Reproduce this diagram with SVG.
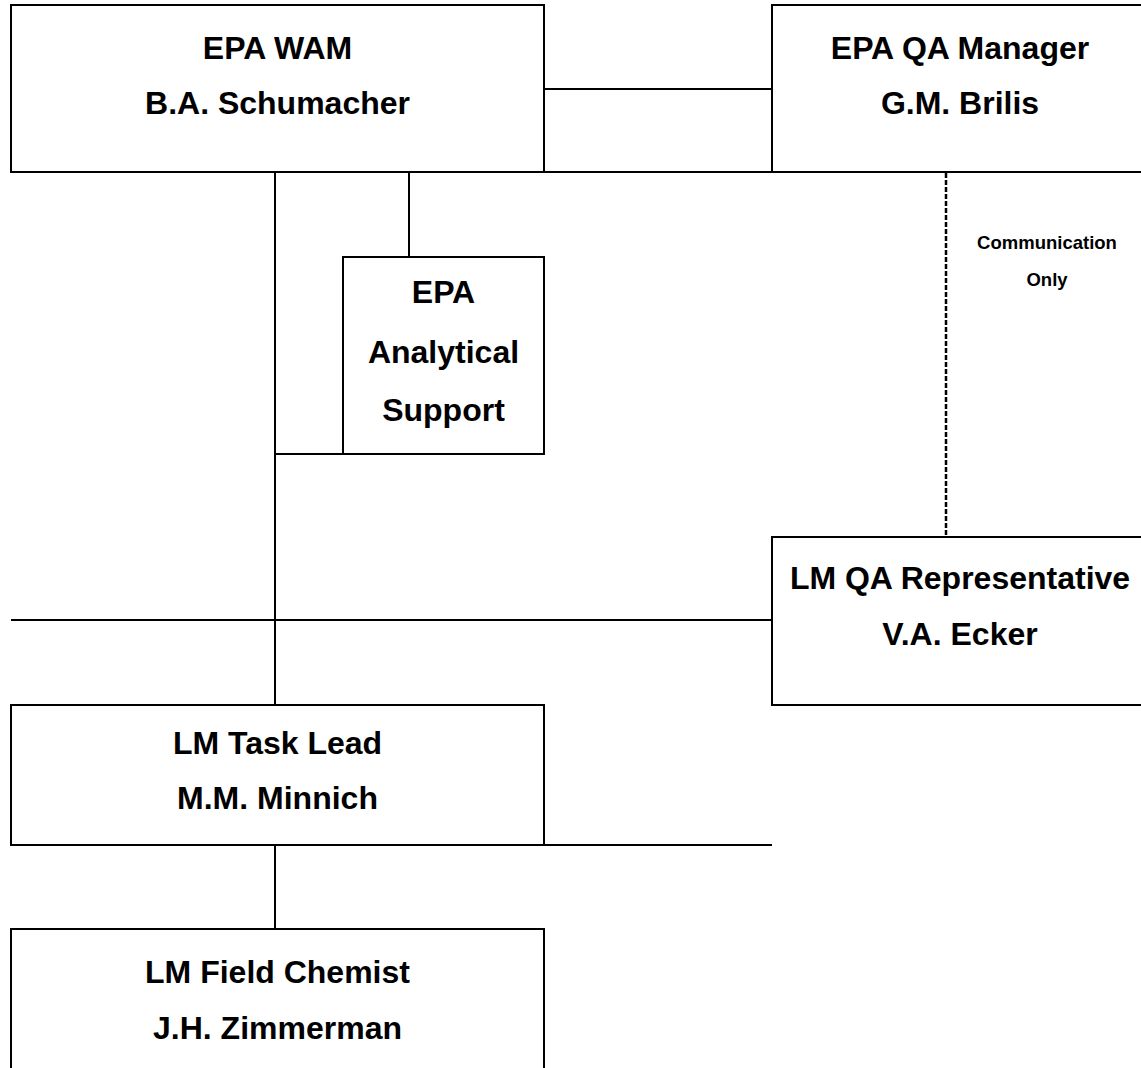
<svg xmlns="http://www.w3.org/2000/svg" width="1141" height="1068" viewBox="0 0 1141 1068">
<style>
.box{fill:#fff;stroke:#000;stroke-width:2}
.ln{stroke:#000;stroke-width:2;fill:none}
.dash{stroke:#000;stroke-width:2.5;stroke-dasharray:5 2;fill:none}
.t{font-family:"Liberation Sans",Arial,sans-serif;font-weight:bold;font-size:32px;text-anchor:middle;fill:#000}
.s{font-family:"Liberation Sans",Arial,sans-serif;font-weight:bold;font-size:18.5px;text-anchor:middle;fill:#000}
</style>
<rect width="1141" height="1068" fill="#fff"/>
<g id="connectors">
<line class="ln" x1="544" y1="89" x2="772" y2="89"/>
<line class="ln" x1="11" y1="172" x2="1141" y2="172"/>
<line class="ln" x1="275" y1="172" x2="275" y2="705"/>
<line class="ln" x1="409" y1="172" x2="409" y2="257"/>
<line class="ln" x1="275" y1="454" x2="544" y2="454"/>
<line class="dash" x1="946" y1="173" x2="946" y2="537"/>
<line class="ln" x1="11" y1="620" x2="772" y2="620"/>
<line class="ln" x1="11" y1="845" x2="772" y2="845"/>
<line class="ln" x1="275" y1="845" x2="275" y2="929"/>
<text class="s" x="1047" y="249">Communication</text>
<text class="s" x="1047" y="286">Only</text>
</g>
<g id="epa-wam">
<rect class="box" x="11" y="5" width="533" height="167"/>
<text class="t" x="277.5" y="59">EPA WAM</text>
<text class="t" x="277.5" y="114">B.A. Schumacher</text>
</g>
<g id="epa-qa-manager">
<rect class="box" x="772" y="5" width="380" height="167"/>
<text class="t" x="960" y="59">EPA QA Manager</text>
<text class="t" x="960" y="114">G.M. Brilis</text>
</g>
<g id="epa-analytical-support">
<rect class="box" x="343" y="257" width="201" height="197"/>
<text class="t" x="443.5" y="303">EPA</text>
<text class="t" x="443.5" y="363">Analytical</text>
<text class="t" x="443.5" y="421">Support</text>
</g>
<g id="lm-qa-representative">
<rect class="box" x="772" y="537" width="380" height="168"/>
<text class="t" x="960" y="589">LM QA Representative</text>
<text class="t" x="960" y="645">V.A. Ecker</text>
</g>
<g id="lm-task-lead">
<rect class="box" x="11" y="705" width="533" height="140"/>
<text class="t" x="277.5" y="754">LM Task Lead</text>
<text class="t" x="277.5" y="809">M.M. Minnich</text>
</g>
<g id="lm-field-chemist">
<rect class="box" x="11" y="929" width="533" height="160"/>
<text class="t" x="277.5" y="983">LM Field Chemist</text>
<text class="t" x="277.5" y="1039">J.H. Zimmerman</text>
</g>
</svg>
